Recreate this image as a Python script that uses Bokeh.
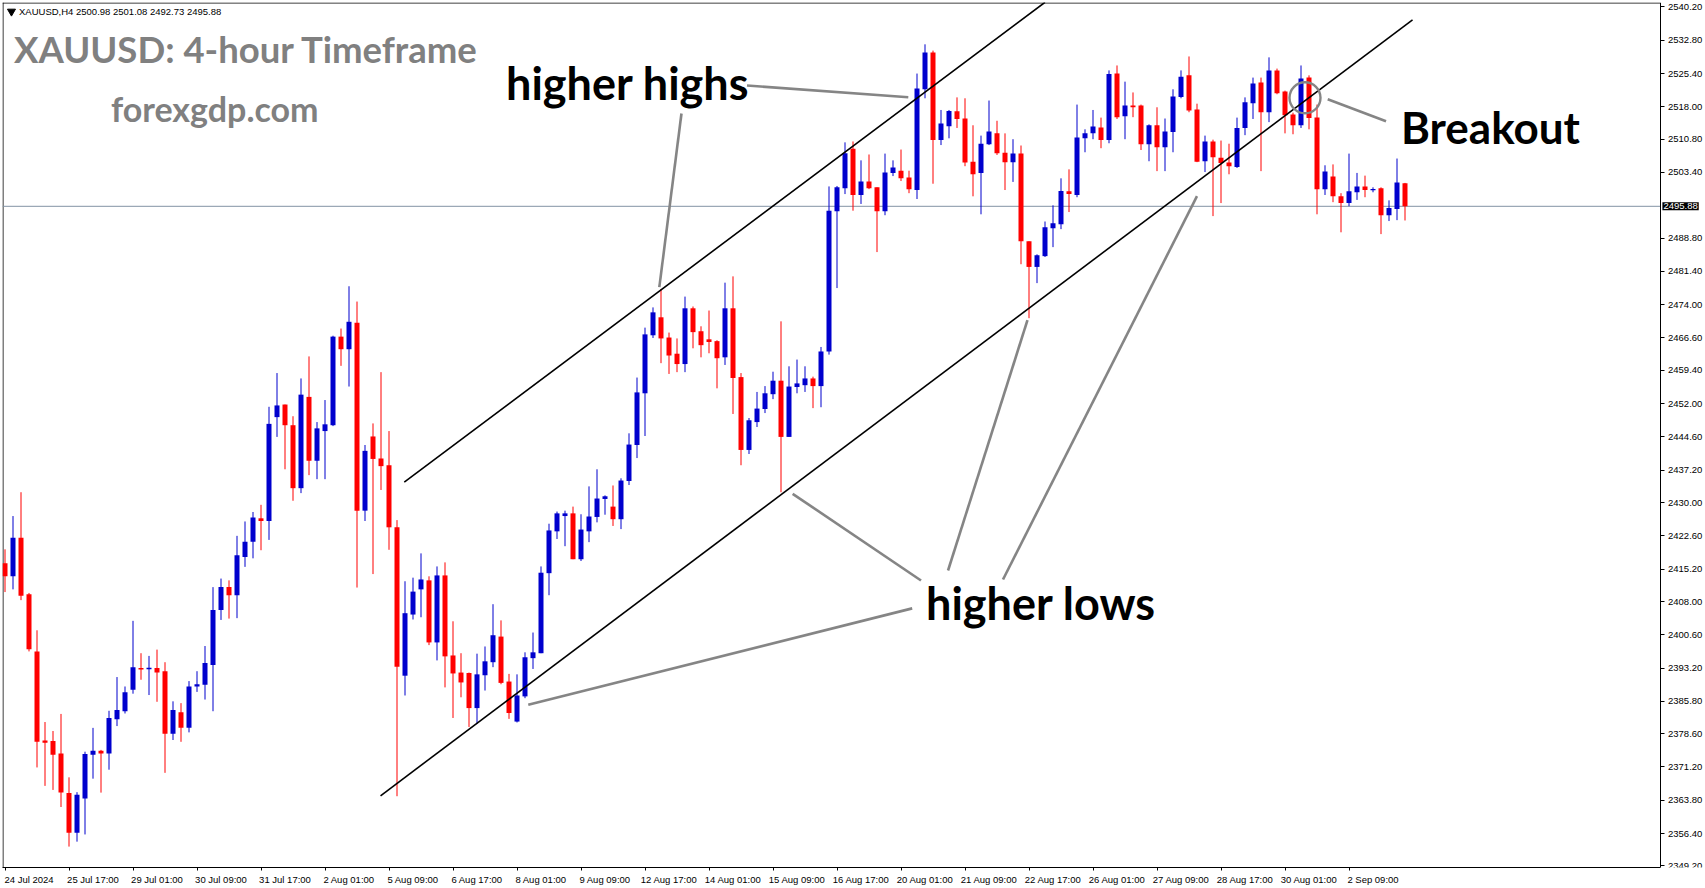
import numpy as np
from bokeh.plotting import figure
from bokeh.models import ColumnDataSource, FixedTicker, NumeralTickFormatter, Label
from bokeh.core.properties import value
from bokeh.embed import file_html
from bokeh.resources import INLINE

# ---------------- data (XAUUSD H4, bar index 0..175) ----------------
bar_open = [2416.5, 2413.6, 2422.2, 2409.6, 2396.9, 2377.1, 2377.0, 2374.2, 2365.4, 2356.6,
            2364.2, 2373.9, 2374.8, 2374.2, 2381.8, 2383.6, 2388.4, 2393.2, 2393.0, 2393.2,
            2392.5, 2378.6, 2383.4, 2379.9, 2389.1, 2389.5, 2393.9, 2406.1, 2411.2, 2409.4,
            2417.9, 2421.3, 2426.5, 2425.9, 2449.0, 2451.8, 2447.2, 2433.2, 2453.5, 2439.3,
            2445.9, 2447.2, 2466.9, 2464.1, 2470.0, 2428.2, 2444.7, 2439.8, 2438.3, 2424.5,
            2391.5, 2405.1, 2410.7, 2412.7, 2398.9, 2413.8, 2396.0, 2392.2, 2392.1, 2384.3,
            2391.6, 2394.5, 2400.2, 2390.2, 2381.3, 2386.9, 2395.4, 2396.5, 2414.3, 2423.6,
            2427.0, 2427.6, 2417.4, 2423.6, 2426.8, 2430.8, 2429.1, 2426.3, 2434.8, 2442.8,
            2454.3, 2467.2, 2471.2, 2466.7, 2463.1, 2460.8, 2473.2, 2468.1, 2466.3, 2465.9,
            2462.3, 2473.2, 2457.9, 2441.7, 2447.9, 2450.8, 2454.1, 2457.1, 2444.6, 2455.7,
            2456.1, 2457.6, 2455.9, 2463.6, 2494.8, 2499.9, 2508.7, 2498.4, 2501.4, 2500.1,
            2494.8, 2503.3, 2503.8, 2502.3, 2499.5, 2521.9, 2530.1, 2510.6, 2513.7, 2517.0,
            2515.4, 2505.8, 2503.3, 2509.7, 2512.1, 2507.8, 2505.7, 2507.6, 2488.1, 2482.4,
            2484.8, 2491.0, 2491.9, 2499.2, 2498.4, 2511.0, 2512.1, 2513.4, 2510.6, 2525.4,
            2515.9, 2518.3, 2518.3, 2509.7, 2513.9, 2509.0, 2512.4, 2520.2, 2525.0, 2517.4,
            2505.9, 2510.3, 2506.7, 2505.6, 2504.6, 2513.3, 2518.8, 2523.4, 2516.8, 2526.1,
            2521.4, 2516.3, 2513.9, 2524.5, 2515.6, 2499.7, 2502.5, 2498.1, 2496.6, 2499.0,
            2500.3, 2499.5, 2499.9, 2493.9, 2495.3, 2500.98]
bar_high = [2419.6, 2427.0, 2432.3, 2409.9, 2401.6, 2381.2, 2379.2, 2383.0, 2368.9, 2365.6,
            2374.6, 2379.9, 2375.0, 2383.7, 2391.2, 2389.1, 2403.7, 2396.5, 2395.9, 2397.3,
            2394.5, 2385.8, 2385.4, 2390.3, 2392.5, 2398.1, 2411.2, 2413.1, 2412.7, 2422.6,
            2425.8, 2427.9, 2429.5, 2451.3, 2458.8, 2451.8, 2449.2, 2457.6, 2462.5, 2447.9,
            2452.8, 2467.1, 2468.7, 2478.1, 2474.7, 2442.8, 2447.6, 2459.0, 2445.9, 2426.1,
            2412.5, 2413.3, 2418.7, 2413.6, 2415.8, 2416.7, 2403.6, 2396.5, 2392.2, 2396.4,
            2398.0, 2407.4, 2403.8, 2391.9, 2391.8, 2396.7, 2401.1, 2415.8, 2425.3, 2428.0,
            2428.2, 2429.1, 2427.4, 2433.6, 2437.4, 2431.6, 2433.8, 2435.4, 2445.4, 2457.8,
            2468.9, 2473.4, 2477.5, 2467.8, 2466.5, 2475.8, 2473.6, 2469.2, 2472.7, 2466.1,
            2478.9, 2480.3, 2458.8, 2448.8, 2454.6, 2455.9, 2459.1, 2470.3, 2460.3, 2461.8,
            2460.3, 2458.0, 2464.6, 2500.3, 2500.4, 2510.1, 2510.3, 2506.1, 2507.4, 2500.1,
            2507.6, 2506.1, 2508.5, 2503.8, 2525.4, 2531.9, 2530.5, 2517.3, 2517.3, 2520.1,
            2519.9, 2513.9, 2511.6, 2519.4, 2514.9, 2512.1, 2510.8, 2509.4, 2488.1, 2485.2,
            2492.5, 2496.1, 2502.1, 2504.1, 2518.5, 2513.0, 2517.3, 2515.6, 2526.1, 2527.2,
            2523.6, 2521.2, 2518.5, 2514.1, 2517.9, 2515.4, 2521.9, 2526.1, 2529.2, 2518.7,
            2511.6, 2510.7, 2510.5, 2509.8, 2515.6, 2520.1, 2524.5, 2524.5, 2529.0, 2526.5,
            2521.6, 2516.7, 2527.2, 2525.0, 2518.5, 2505.0, 2505.2, 2498.8, 2507.6, 2503.3,
            2502.7, 2500.1, 2500.1, 2497.2, 2506.5, 2501.08]
bar_low = [2410.1, 2410.7, 2408.3, 2396.9, 2371.1, 2367.0, 2366.1, 2362.3, 2353.5, 2354.6,
           2356.2, 2368.6, 2365.5, 2370.6, 2380.3, 2383.1, 2387.5, 2390.6, 2387.2, 2385.7,
           2369.9, 2377.2, 2376.8, 2378.9, 2387.9, 2386.2, 2383.6, 2403.9, 2404.2, 2404.3,
           2415.7, 2417.6, 2419.4, 2421.7, 2444.6, 2437.4, 2430.4, 2432.1, 2436.1, 2435.2,
           2435.2, 2447.0, 2460.4, 2455.8, 2411.1, 2425.9, 2414.1, 2432.8, 2419.5, 2364.7,
           2387.1, 2404.0, 2404.5, 2398.3, 2394.9, 2388.9, 2382.1, 2386.7, 2380.1, 2380.8,
           2388.2, 2393.4, 2389.6, 2381.9, 2381.1, 2386.5, 2393.0, 2396.5, 2409.4, 2421.9,
           2420.3, 2417.4, 2417.0, 2421.2, 2425.6, 2427.3, 2424.8, 2424.1, 2433.9, 2439.9,
           2444.8, 2466.6, 2461.0, 2458.6, 2459.0, 2459.0, 2464.3, 2462.3, 2463.2, 2455.4,
           2460.6, 2449.7, 2438.3, 2440.8, 2446.8, 2449.9, 2453.0, 2432.3, 2444.6, 2454.3,
           2454.6, 2451.0, 2451.2, 2462.9, 2477.7, 2498.6, 2494.9, 2496.4, 2499.7, 2485.7,
           2493.9, 2502.6, 2501.5, 2498.8, 2497.5, 2519.9, 2500.9, 2509.5, 2511.0, 2513.3,
           2504.8, 2498.1, 2494.1, 2509.5, 2507.3, 2499.5, 2501.3, 2483.0, 2471.0, 2478.8,
           2484.6, 2486.8, 2490.8, 2494.6, 2497.9, 2507.9, 2510.8, 2508.8, 2509.9, 2515.3,
           2510.8, 2515.7, 2508.4, 2505.9, 2503.7, 2503.7, 2507.9, 2519.9, 2516.8, 2505.7,
           2503.5, 2493.7, 2496.6, 2503.0, 2504.4, 2511.7, 2515.3, 2503.7, 2514.6, 2520.8,
           2512.1, 2511.9, 2513.3, 2513.0, 2494.1, 2498.4, 2496.8, 2490.1, 2495.9, 2497.3,
           2497.9, 2499.0, 2489.7, 2492.6, 2492.8, 2492.73]
bar_close = [2413.6, 2422.2, 2409.3, 2397.4, 2376.8, 2376.6, 2373.9, 2365.5, 2356.6, 2365.0,
             2374.1, 2374.8, 2374.2, 2382.1, 2383.9, 2387.8, 2393.4, 2392.9, 2393.2, 2392.2,
             2378.6, 2383.9, 2379.9, 2389.1, 2389.6, 2394.3, 2406.1, 2411.2, 2409.4, 2418.3,
             2421.3, 2426.7, 2425.9, 2447.5, 2451.6, 2447.2, 2433.2, 2454.0, 2439.3, 2446.5,
             2447.4, 2466.9, 2464.1, 2470.2, 2428.2, 2441.5, 2439.7, 2438.1, 2424.5, 2393.5,
             2405.4, 2410.2, 2412.9, 2398.9, 2413.8, 2395.8, 2392.0, 2390.0, 2384.3, 2391.8,
             2394.7, 2400.5, 2389.9, 2383.2, 2387.1, 2395.6, 2396.7, 2414.4, 2423.8, 2427.6,
             2427.6, 2417.4, 2424.0, 2426.9, 2430.9, 2431.4, 2426.3, 2434.9, 2442.9, 2454.5,
             2467.4, 2472.3, 2466.5, 2462.7, 2460.8, 2473.2, 2467.9, 2465.0, 2465.7, 2462.1,
             2473.2, 2457.7, 2441.7, 2448.3, 2450.9, 2454.3, 2457.1, 2444.6, 2455.8, 2456.5,
             2457.6, 2455.9, 2463.6, 2494.9, 2500.1, 2507.7, 2498.4, 2501.4, 2499.9, 2494.8,
             2503.4, 2504.5, 2502.1, 2499.7, 2522.1, 2530.1, 2510.6, 2514.3, 2517.1, 2515.3,
             2505.6, 2503.0, 2509.8, 2512.5, 2507.7, 2505.7, 2507.6, 2488.1, 2482.4, 2485.0,
             2491.2, 2492.1, 2499.3, 2498.6, 2511.2, 2512.1, 2513.6, 2510.6, 2525.3, 2515.7,
             2518.3, 2517.9, 2509.7, 2513.9, 2509.0, 2512.5, 2520.3, 2524.7, 2517.2, 2505.8,
             2510.3, 2506.8, 2505.5, 2504.8, 2513.3, 2519.0, 2523.2, 2516.8, 2526.1, 2521.0,
             2516.1, 2513.9, 2524.3, 2515.5, 2499.7, 2503.6, 2498.1, 2496.6, 2499.2, 2500.3,
             2499.5, 2499.7, 2493.9, 2495.5, 2501.2, 2495.88]

time_labels = ["24 Jul 2024", "25 Jul 17:00", "29 Jul 01:00", "30 Jul 09:00", "31 Jul 17:00",
               "2 Aug 01:00", "5 Aug 09:00", "6 Aug 17:00", "8 Aug 01:00", "9 Aug 09:00",
               "12 Aug 17:00", "14 Aug 01:00", "15 Aug 09:00", "16 Aug 17:00", "20 Aug 01:00",
               "21 Aug 09:00", "22 Aug 17:00", "26 Aug 01:00", "27 Aug 09:00", "28 Aug 17:00",
               "30 Aug 01:00", "2 Sep 09:00"]
price_ticks = [2540.2, 2532.8, 2525.4, 2518.0, 2510.8, 2503.4, 2488.8, 2481.4, 2474.0, 2466.6,
               2459.4, 2452.0, 2444.6, 2437.2, 2430.0, 2422.6, 2415.2, 2408.0, 2400.6, 2393.2,
               2385.8, 2378.6, 2371.2, 2363.8, 2356.4, 2349.2]
last_price = 2495.88
header_text = "XAUUSD,H4  2500.98 2501.08 2492.73 2495.88"

# trend lines drawn on the chart (anchor points: bar index, price)
upper_channel_x = [49.91, 130.0]
upper_channel_y = [2434.53, 2541.25]
lower_channel_x = [46.94, 175.94]
lower_channel_y = [2364.80, 2537.35]

# grey pointer lines (bar index, price)
pointer_x0 = [92.75, 84.56, 113.40, 114.50, 117.88, 124.75, 165.34]
pointer_y0 = [2522.74, 2516.52, 2406.47, 2412.67, 2414.89, 2412.89, 2519.70]
pointer_x1 = [112.91, 81.79, 65.41, 98.46, 127.81, 149.00, 172.63]
pointer_y1 = [2520.14, 2477.89, 2385.03, 2431.95, 2470.55, 2498.13, 2514.81]
breakout_x = [162.5]
breakout_y = [2520.01]

# ---------------- view geometry ----------------
X0, X1 = -0.3125, 212.5625       # bar-index range of the frame
Y0, Y1 = 2348.85, 2541.2         # price range of the frame
AXIS_X = 206.875                 # where the price scale sits (right edge of chart)

# ---------------- build ----------------
n = len(bar_open)
idx = np.arange(n)
o = np.array(bar_open); c = np.array(bar_close)
h = np.array(bar_high); l = np.array(bar_low)
top = np.maximum(o, c); bot = np.minimum(o, c)
small = (top - bot) < 0.3
mid = (top + bot) / 2
top = np.where(small, mid + 0.15, top)
bot = np.where(small, mid - 0.15, bot)
UP, DOWN = "#0000cd", "#ff0000"
colors = np.where(c >= o, UP, DOWN)

src = ColumnDataSource(dict(x=idx, top=top, bot=bot, high=h, low=l, color=colors))

p = figure(frame_width=1703, frame_height=865,
           x_range=(X0, X1), y_range=(Y0, Y1),
           output_backend="svg", toolbar_location=None, y_axis_location="right",
           min_border=0, min_border_left=2, min_border_top=2, min_border_right=0,
           min_border_bottom=0,
           background_fill_color="white", border_fill_color="white",
           outline_line_color=None)
p.grid.visible = False

# chart border (left / top) and current-price line
p.segment(x0=[X0 + 0.0625, X0], y0=[Y0, Y1 - 0.11], x1=[X0 + 0.0625, AXIS_X], y1=[Y1, Y1 - 0.11],
          line_color="black", line_width=1)
p.segment(x0=[X0], y0=[last_price], x1=[AXIS_X], y1=[last_price],
          line_color="#8393a4", line_width=1)

p.segment(x0="x", y0="low", x1="x", y1="high", color="color", line_width=1, source=src)
p.vbar(x="x", top="top", bottom="bot", width=0.625, fill_color="color", line_color=None, source=src)

p.line(upper_channel_x, upper_channel_y, line_color="black", line_width=1.6)
p.line(lower_channel_x, lower_channel_y, line_color="black", line_width=1.6)
p.segment(x0=pointer_x0, y0=pointer_y0, x1=pointer_x1, y1=pointer_y1,
          line_color="#858585", line_width=2.6)
p.scatter(breakout_x, breakout_y, marker="circle", size=31, fill_color=None,
          line_color="#858585", line_width=2.4)

# texts
def big_text(x, y, s, size, color):
    p.text(x=[x], y=[y], text=[s], text_font=value("Lato"), text_font_style="bold",
           text_font_size=value(size), text_color=color,
           text_align="left", text_baseline="alphabetic")

big_text(1.125, 2530.75, "XAUUSD: 4-hour Timeframe", "36.5px", "#808080")
big_text(13.25, 2517.65, "forexgdp.com", "34px", "#808080")
big_text(62.625, 2523.25, "higher highs", "45px", "black")
big_text(115.125, 2407.65, "higher lows", "45px", "black")
big_text(174.5, 2513.6, "Breakout", "44px", "black")

p.text(x=[1.75], y=[2539.2], text=[header_text], text_font=value("Liberation Sans"),
       text_font_size=value("9.5px"), text_color="black",
       text_align="left", text_baseline="middle")
p.scatter([0.81], [2539.2], marker="inverted_triangle", size=8, fill_color="black",
          line_color="black")

# axes
xa = p.xaxis[0]
xa.ticker = FixedTicker(ticks=[8 * j + 3 for j in range(len(time_labels))],
                        minor_ticks=[8 * j for j in range(len(time_labels))])
xa.major_label_overrides = {8 * j + 3: t for j, t in enumerate(time_labels)}
xa.bounds = (X0, AXIS_X)
xa.major_tick_line_color = None
xa.major_tick_out = 0
xa.major_tick_in = 0
xa.minor_tick_line_color = "black"
xa.minor_tick_out = 3
xa.minor_tick_in = 0
xa.major_label_standoff = 3
xa.axis_line_color = "black"
xa.major_label_text_font = "Liberation Sans"
xa.major_label_text_font_size = "9.5px"
xa.major_label_text_color = "black"

ya = p.yaxis[0]
ya.fixed_location = AXIS_X
ya.ticker = FixedTicker(ticks=price_ticks)
ya.formatter = NumeralTickFormatter(format="0.00")
ya.major_tick_out = 4
ya.major_tick_in = 0
ya.minor_tick_line_color = None
ya.major_label_standoff = 4
ya.axis_line_color = "black"
ya.major_label_text_font = "Liberation Sans"
ya.major_label_text_font_size = "9.5px"
ya.major_label_text_color = "black"

p.add_layout(Label(x=AXIS_X + 0.3, y=last_price, text=f"{last_price:.2f}", text_color="white",
                   text_font="Liberation Sans", text_font_size="9.5px",
                   text_align="left", text_baseline="middle",
                   background_fill_color="black", padding=1))

open("out.html", "w").write(file_html(p, INLINE))
